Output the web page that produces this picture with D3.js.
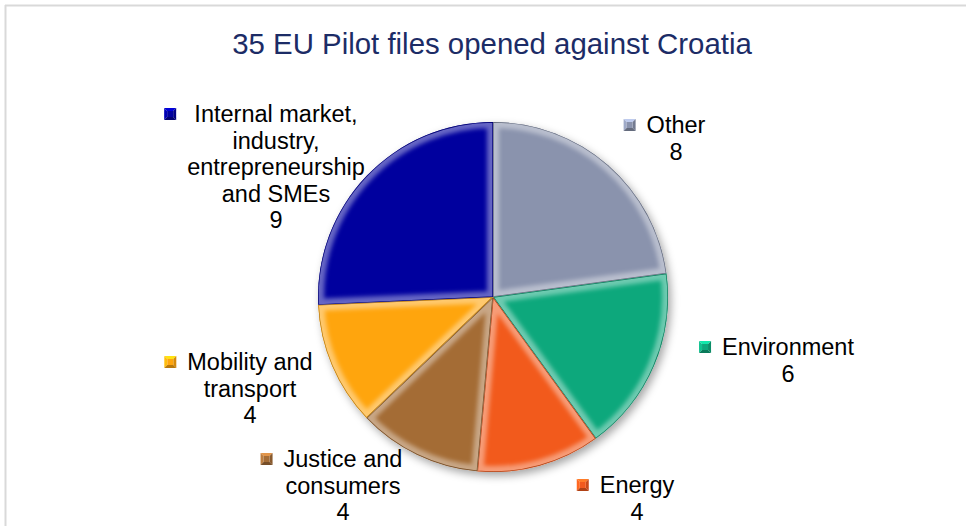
<!DOCTYPE html>
<html>
<head>
<meta charset="utf-8">
<script src="https://cdn.jsdelivr.net/npm/d3@7"></script>
<style>
  html, body { margin: 0; padding: 0; background: #fff; }
  svg { display: block; }
  text { font-family: "Liberation Sans", Arial, sans-serif; }
</style>
</head>
<body>
<svg id="chart" width="966" height="526"></svg>
<script>
// EU Pilot files opened against Croatia, by policy area
const title = "35 EU Pilot files opened against Croatia";
const categories = ["Other", "Environment", "Energy", "Justice and consumers",
  "Mobility and transport", "Internal market, industry, entrepreneurship and SMEs"];
const values = [8, 6, 4, 4, 4, 9];
const labelLines = [
  ["Other"],
  ["Environment"],
  ["Energy"],
  ["Justice and", "consumers"],
  ["Mobility and", "transport"],
  ["Internal market,", "industry,", "entrepreneurship", "and SMEs"]
];
const colors = ["#8a93ad", "#0ea87c", "#f25a1d", "#a46c36", "#ffa50c", "#00009e"];

const W = 966, H = 526;
const cx = 493, cy = 297, R = 175;
const fontSize = 23.5, lineH = 26.5;
// label block centre x and first baseline per slice
const labelAnchor = [[676, 133], [788, 355], [637, 493], [343, 467], [250, 370], [276, 122]];

const svg = d3.select("#chart");
const defs = svg.append("defs");

// soft drop shadow under the pie
const sh = defs.append("filter").attr("id", "shadow")
  .attr("x", "-20%").attr("y", "-20%").attr("width", "140%").attr("height", "140%");
sh.append("feDropShadow").attr("dx", 3).attr("dy", 4).attr("stdDeviation", 4)
  .attr("flood-color", "#000").attr("flood-opacity", 0.35);

// blur that softens the bevel band into the slice
defs.append("filter").attr("id", "soft")
  .attr("x", "-10%").attr("y", "-10%").attr("width", "120%").attr("height", "120%")
  .append("feGaussianBlur").attr("stdDeviation", 2.2);

// bevel light: bright upper-left, dark lower-right
const bev = defs.append("linearGradient").attr("id", "bevel")
  .attr("gradientUnits", "userSpaceOnUse")
  .attr("x1", cx - R).attr("y1", cy - R).attr("x2", cx + R).attr("y2", cy + R);
bev.append("stop").attr("offset", "0%").attr("stop-color", "#fff").attr("stop-opacity", 0.4);
bev.append("stop").attr("offset", "45%").attr("stop-color", "#fff").attr("stop-opacity", 0.12);
bev.append("stop").attr("offset", "60%").attr("stop-color", "#000").attr("stop-opacity", 0.05);
bev.append("stop").attr("offset", "100%").attr("stop-color", "#000").attr("stop-opacity", 0.3);

// chart frame
svg.append("line").attr("x1", 5).attr("x2", W).attr("y1", 5.5).attr("y2", 5.5)
  .attr("stroke", "#d9d9d9").attr("stroke-width", 2);
svg.append("line").attr("x1", 5.5).attr("x2", 5.5).attr("y1", 5).attr("y2", H)
  .attr("stroke", "#d9d9d9").attr("stroke-width", 2);

// title
svg.append("text").attr("x", 492).attr("y", 54).attr("text-anchor", "middle")
  .attr("font-size", 29.4).attr("fill", "#1c2c66").text(title);

const pie = d3.pie().sort(null).value(d => d)(values);
const arc = d3.arc().innerRadius(0).outerRadius(R);

const g = svg.append("g").attr("transform", `translate(${cx},${cy})`);
const base = g.append("g").attr("filter", "url(#shadow)");
base.selectAll("path").data(pie).enter().append("path")
  .attr("d", arc).attr("fill", (d, i) => colors[i]);

// bevel highlight along each slice's edges, clipped to the slice
pie.forEach((d, i) => {
  const id = "clip" + i;
  defs.append("clipPath").attr("id", id)
    .append("path").attr("d", arc(d)).attr("transform", `translate(${cx},${cy})`);
  const sg = svg.append("g").attr("clip-path", `url(#${id})`);
  sg.append("path").attr("d", arc(d)).attr("transform", `translate(${cx},${cy})`)
    .attr("fill", "none").attr("stroke", "url(#bevel)").attr("stroke-width", 12)
    .attr("stroke-linejoin", "round").attr("filter", "url(#soft)");
  sg.append("path").attr("d", arc(d)).attr("transform", `translate(${cx},${cy})`)
    .attr("fill", "none").attr("stroke", d3.color(colors[i]).darker(0.9))
    .attr("stroke-width", 1.4);
});

// labels with bevelled legend keys
pie.forEach((d, i) => {
  const [lx, ly] = labelAnchor[i];
  const lines = labelLines[i].concat([String(values[i])]);
  const tg = svg.append("g");
  let maxW = 0;
  lines.forEach((t, k) => {
    const el = tg.append("text").attr("x", lx).attr("y", ly + k * lineH)
      .attr("text-anchor", "middle").attr("font-size", fontSize).attr("fill", "#000").text(t);
    if (k < lines.length - 1) maxW = Math.max(maxW, el.node().getComputedTextLength());
  });
  const s = 12;
  const mx = lx - maxW / 2 - 11 - s, my = ly - 8 - s / 2;
  const c = d3.color(colors[i]);
  const kg = svg.append("g").attr("transform", `translate(${mx},${my})`);
  const tri = (pts, fill) => kg.append("path").attr("d", "M" + pts.join("L") + "Z").attr("fill", fill);
  const b = 3;
  tri([[0, 0], [s, 0], [s - b, b], [b, b]], c.brighter(0.9));
  tri([[0, 0], [b, b], [b, s - b], [0, s]], c.brighter(0.4));
  tri([[s, 0], [s, s], [s - b, s - b], [s - b, b]], c.darker(0.5));
  tri([[0, s], [b, s - b], [s - b, s - b], [s, s]], c.darker(0.9));
  kg.append("rect").attr("x", b).attr("y", b).attr("width", s - 2 * b).attr("height", s - 2 * b).attr("fill", c);
});
</script>
</body>
</html>
